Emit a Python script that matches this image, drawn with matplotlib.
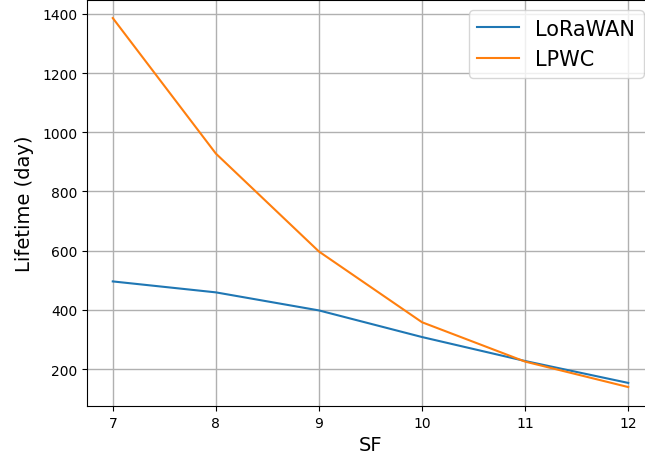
import numpy as np
import matplotlib
matplotlib.use('Agg')
import matplotlib.pyplot as plt

sf = [7, 8, 9, 10, 11, 12]
lorawan = [496, 459, 398, 308, 227, 153]
lpwc = [1386, 928, 597, 358, 225, 139]

fig = plt.figure(figsize=(6.45, 4.6), dpi=100)
# axes run slightly past the right edge of the canvas
ax = fig.add_axes([87/645, 53/460, (654-87)/645, (459-53)/460])
ax.plot(sf, lorawan, color='#1f77b4', label='LoRaWAN')
ax.plot(sf, lpwc, color='#ff7f0e', label='LPWC')
ax.set_xlim(6.75, 12.25)
ax.set_ylim(75, 1447)
ax.set_xticks(sf)
ax.set_yticks([200, 400, 600, 800, 1000, 1200, 1400])
ax.grid(True, color='#b0b0b0', linewidth=1.0)
ax.tick_params(labelsize=10)
ax.set_xlabel('SF', fontsize=14)
ax.set_ylabel('Lifetime (day)', fontsize=14, labelpad=6)
ax.legend(loc='upper right', fontsize=15)
fig.savefig('out.png', dpi=100)
